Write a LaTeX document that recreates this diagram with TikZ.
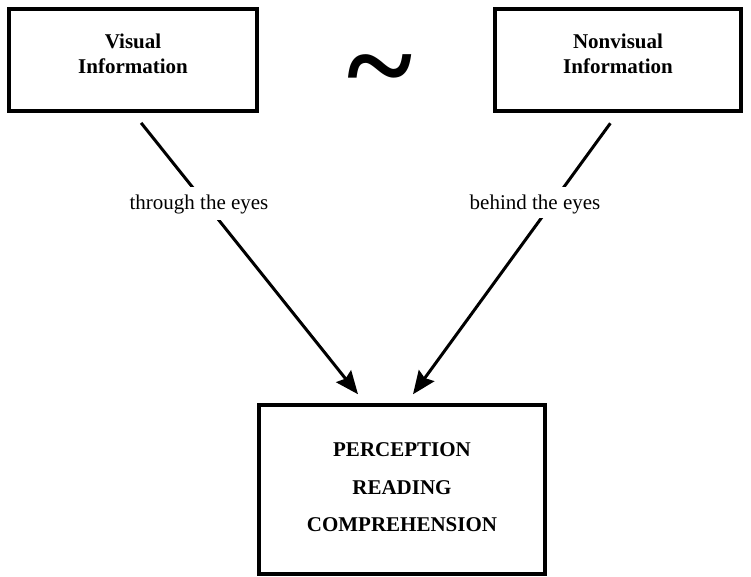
\documentclass[tikz,border=0pt]{standalone}
\usepackage{fontspec}
\setmainfont{Liberation Serif}
\usetikzlibrary{arrows.meta,calc}
\begin{document}
\begin{tikzpicture}[x=1pt,y=-1pt,
  frame/.style={draw,line width=3.5pt,inner sep=0pt},
  heading/.style={font=\fontsize{21}{25}\selectfont\bfseries,align=center,inner sep=0pt},
  stagelist/.style={font=\fontsize{21}{37.5}\selectfont\bfseries,align=center,inner sep=0pt},
  route/.style={line width=3pt,-{Stealth[length=23pt,width=19pt,inset=3pt]},shorten <=13pt},
  routelabel/.style={font=\fontsize{21}{25}\selectfont,fill=white,inner ysep=0pt,inner xsep=2pt,anchor=base}]
\useasboundingbox (0,0) rectangle (751,577);

% the two sources of information
\node[frame,minimum width=248pt,minimum height=102pt] (vis) at (133,60) {};
\node[frame,minimum width=246pt,minimum height=102pt] (nonvis) at (618,60) {};
\node[heading] (vistext) at (133,53.5) {Visual\\Information};
\node[heading] (nonvistext) at (618,53.5) {Nonvisual\\Information};

% the tilde between them
\node[inner sep=4pt] (tilde) at (380,81) {\fontsize{125}{125}\selectfont\bfseries\textasciitilde};

% the outcome box
\node[frame,minimum width=286pt,minimum height=169pt] (perc) at (402,489.5) {};
\node[stagelist] (perctext) at (402,487.5) {PERCEPTION\\READING\\COMPREHENSION};

% arrow ends just above the outcome box
\coordinate (tipL) at ($(perc.north)+(-44,-9)$);
\coordinate (tipR) at ($(perc.north)+(11,-9)$);

\draw[route] (vis.south) -- (tipL);
\draw[route] (nonvis.south) -- (tipR);

% labels sitting in the gaps of the arrows
\node[routelabel,text height=23pt,text depth=10pt] (thru) at (199,210) {through the eyes};
\node[routelabel,text height=22pt,text depth=9pt] (behind) at (535,209) {behind the eyes};
\end{tikzpicture}
\end{document}
